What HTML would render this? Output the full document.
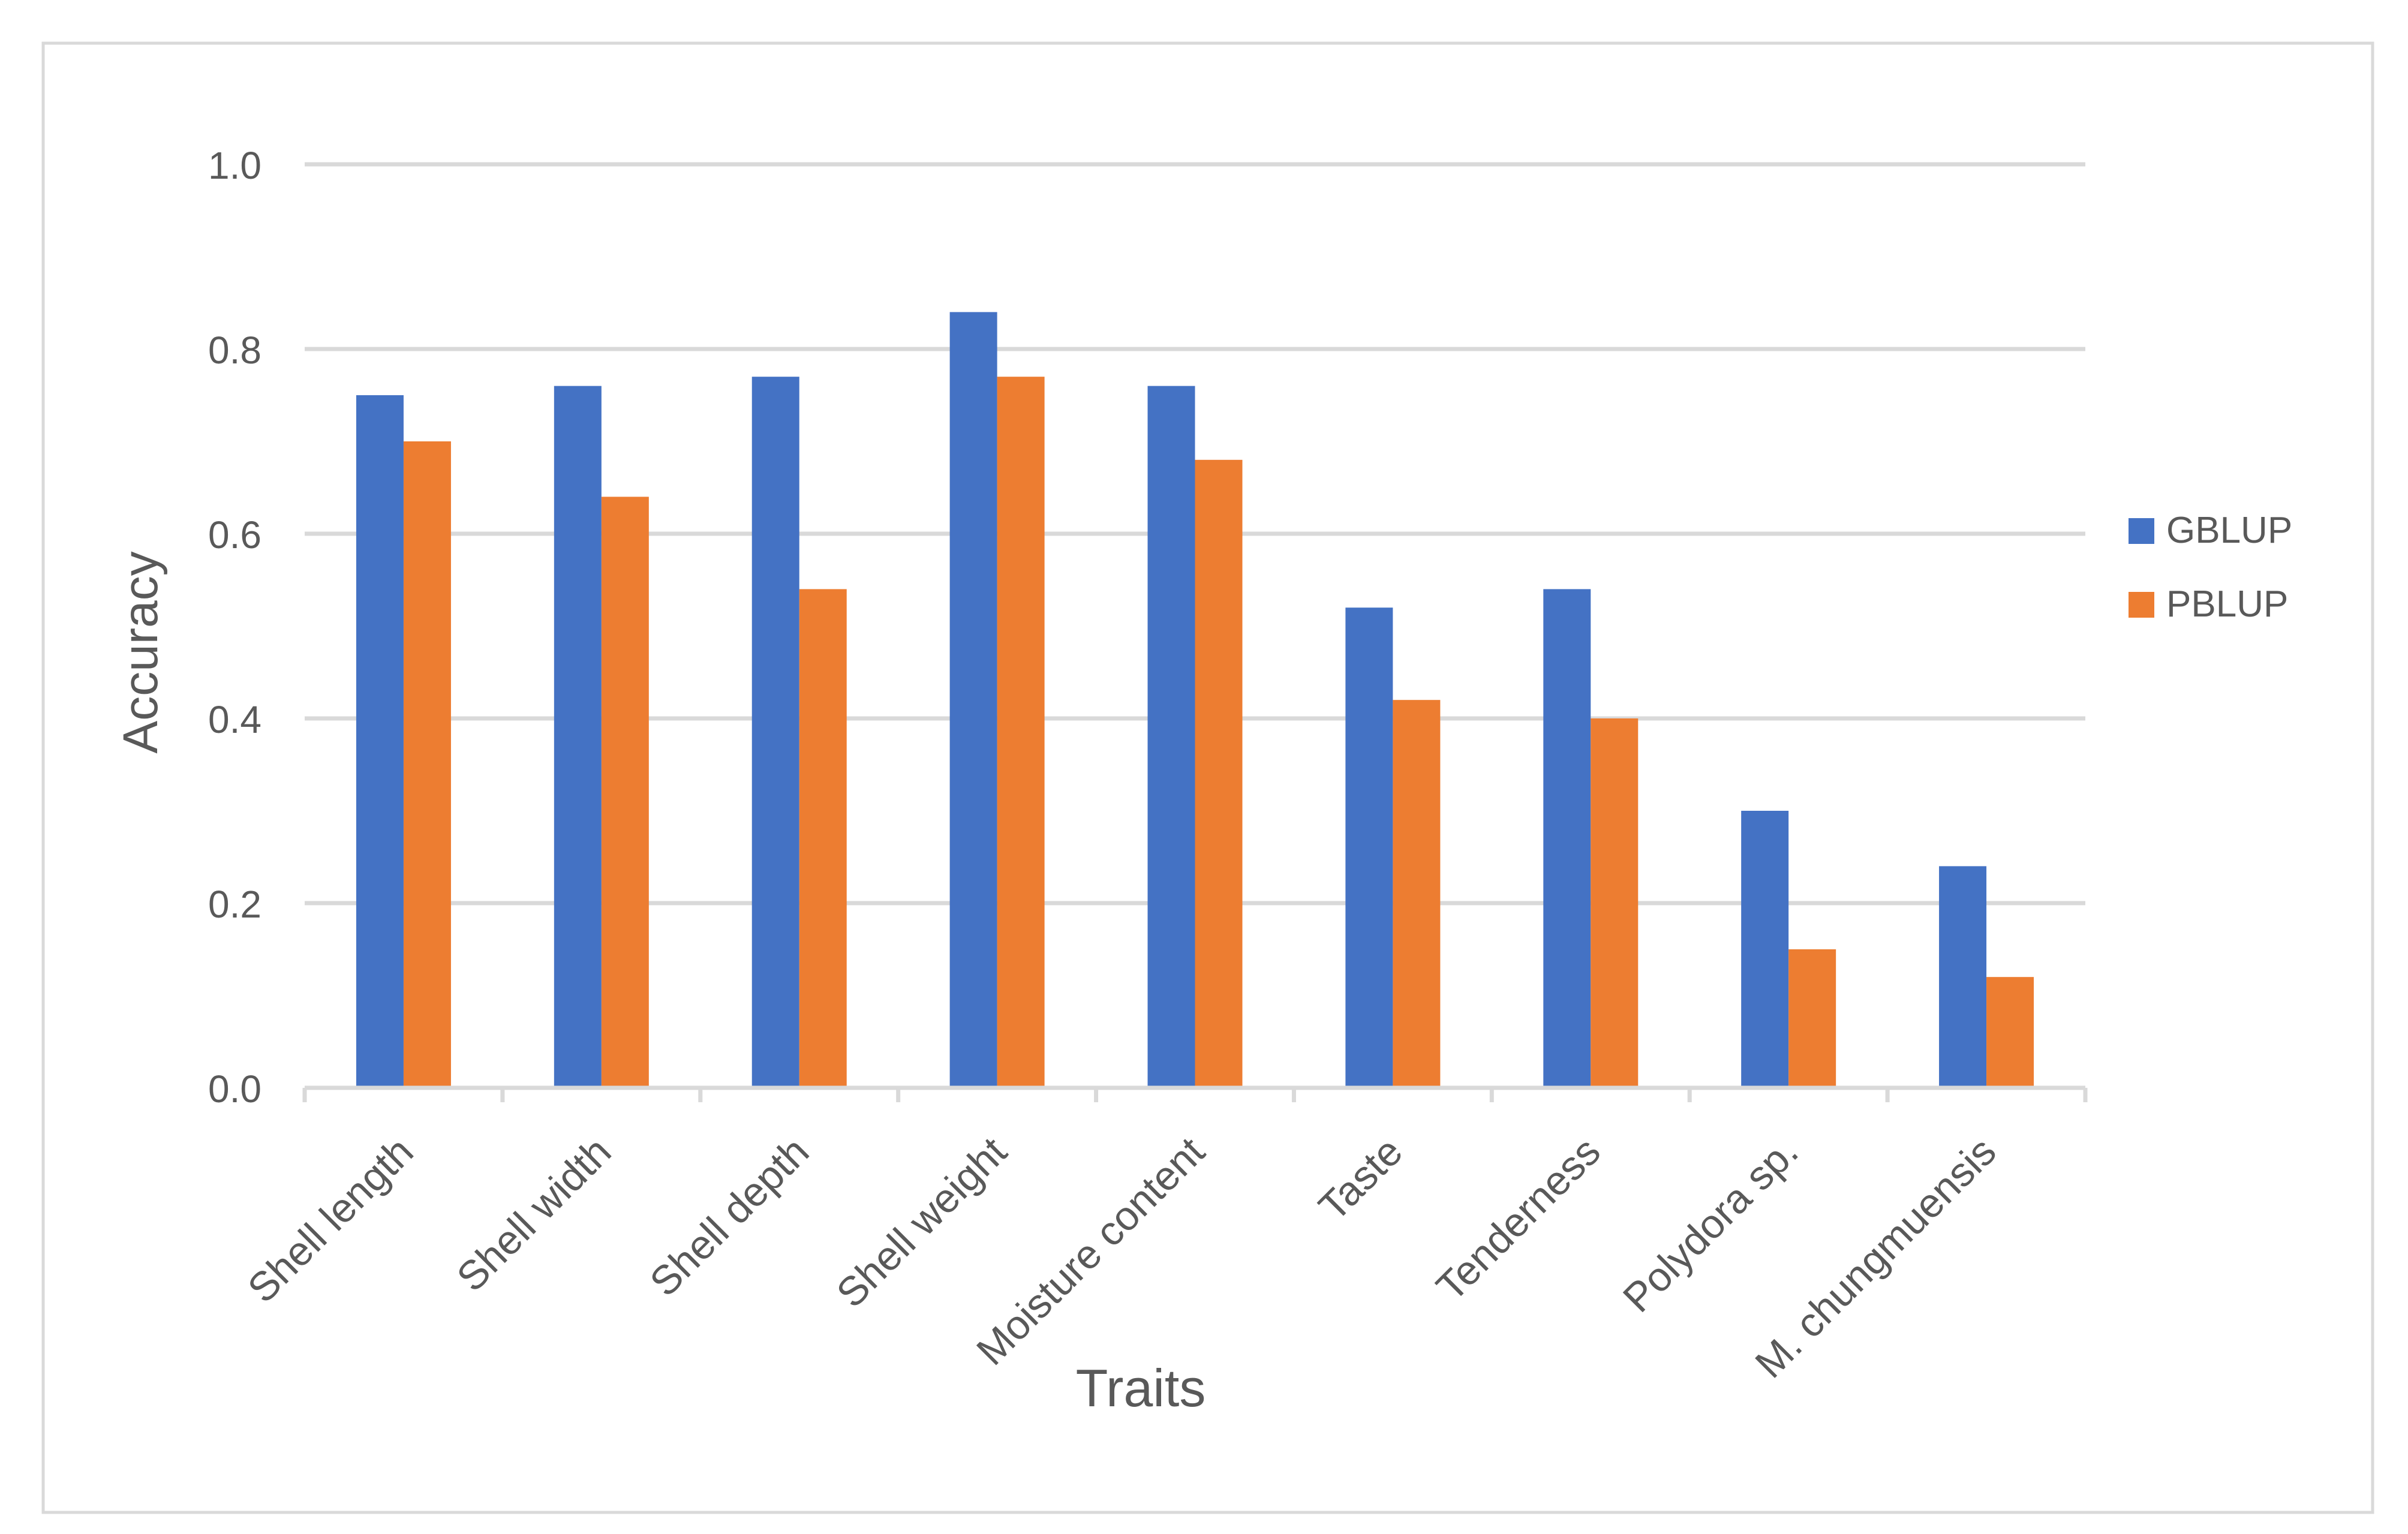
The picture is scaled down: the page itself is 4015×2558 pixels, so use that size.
<!DOCTYPE html>
<html><head><meta charset="utf-8"><style>
html,body{margin:0;padding:0;background:#fff;}
svg{display:block;font-family:"Liberation Sans",sans-serif;}
</style></head><body>
<svg id="chart" width="4015" height="2558" viewBox="0 0 4015 2558" xmlns="http://www.w3.org/2000/svg">
<rect x="72" y="72" width="3884" height="2450" fill="#fff" stroke="#d9d9d9" stroke-width="5"/>
<g id="grid"></g><g id="bars"></g><g id="axis"></g>
<text transform="translate(262,1088) rotate(-90)" text-anchor="middle" font-size="82" fill="#595959">Accuracy</text>
<text x="1902" y="2345" text-anchor="middle" font-size="88" fill="#595959">Traits</text>
<g>
<rect x="3549" y="864" width="43" height="43" fill="#4472c4"/>
<text x="3612" y="905" font-size="62" fill="#595959">GBLUP</text>
<rect x="3549" y="987" width="43" height="43" fill="#ed7d31"/>
<text x="3612" y="1028" font-size="62" fill="#595959">PBLUP</text>
</g>
</svg>
<script>
const categories = ["Shell length","Shell width","Shell depth","Shell weight","Moisture content","Taste","Tenderness","Polydora sp.","M. chungmuensis"];
const gblup = [0.75,0.76,0.77,0.84,0.76,0.52,0.54,0.30,0.24];
const pblup = [0.70,0.64,0.54,0.77,0.68,0.42,0.40,0.15,0.12];
const yTicks = [0,0.2,0.4,0.6,0.8,1.0];
const yTickLabels = ["0.0","0.2","0.4","0.6","0.8","1.0"];

const NS = "http://www.w3.org/2000/svg";
const left = 508, right = 3477, y0 = 1814, yTop = 274;
const bw = (right-left)/categories.length;
const barW = 79;
function yScale(v){ return y0 - (y0 - yTop) * v / 1.0; }
function xCenter(i){ return left + bw*(i+0.5); }
function mk(tag, attrs, parent){ const e=document.createElementNS(NS,tag); for(const k in attrs) e.setAttribute(k,attrs[k]); parent.appendChild(e); return e; }

const grid=document.getElementById('grid'), bars=document.getElementById('bars'), axis=document.getElementById('axis');
yTicks.forEach((t,i)=>{
  if(t>0){
    const l=mk('line',{x1:left,x2:right,y1:yScale(t),y2:yScale(t),stroke:'#d9d9d9','stroke-width':7},grid);
    
    
  }
  const tx=mk('text',{x:436,y:yScale(t)+24,'text-anchor':'end','font-size':64,fill:'#595959'},axis);
  tx.textContent=yTickLabels[i];
  
  
});
categories.forEach((c,i)=>{
  const cx=xCenter(i);
  const b1=mk('rect',{x:cx-barW,y:yScale(gblup[i]),width:barW,height:y0-yScale(gblup[i]),fill:'#4472c4'},bars);
  
  
  const b2=mk('rect',{x:cx,y:yScale(pblup[i]),width:barW,height:y0-yScale(pblup[i]),fill:'#ed7d31'},bars);
  
  
  const px=cx+20, py=1925;
  const lab=mk('text',{x:px,y:py,'text-anchor':'end','font-size':68,fill:'#595959',transform:`rotate(-45 ${px} ${py})`},axis);
  lab.textContent=c;
  
  
});
const ax=mk('line',{x1:left,x2:right,y1:y0,y2:y0,stroke:'#d9d9d9','stroke-width':7},axis);


for(let i=0;i<=categories.length;i++){
  const x=left+bw*i;
  const tk=mk('line',{x1:x,x2:x,y1:y0,y2:1838,stroke:'#d9d9d9','stroke-width':7},axis);
  
  
}
</script>
</body></html>
